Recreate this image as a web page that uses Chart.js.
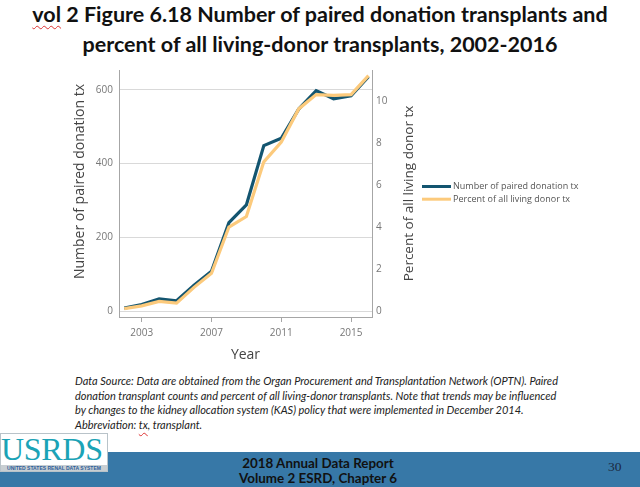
<!DOCTYPE html>
<html>
<head>
<meta charset="utf-8">
<script src="https://cdn.jsdelivr.net/npm/chart.js@4/dist/chart.umd.min.js"></script>
<style>
  html, body { margin:0; padding:0; background:#fff; }
  body { width:640px; height:487px; position:relative; overflow:hidden; font-family:Lato, "Open Sans", sans-serif; }
  #title { position:absolute; left:0; top:-1px; width:640px; text-align:center; font-weight:bold; font-size:21.5px; line-height:30px; color:#111; font-family:Lato, sans-serif; }
  .sq { text-decoration: underline wavy #d33; text-decoration-thickness:1px; text-underline-offset:3px; }
  #wrap { position:absolute; left:65px; top:58px; width:530px; height:305px; }
  #src { position:absolute; left:75px; top:374px; font-style:italic; font-size:11px; line-height:14.6px; color:#222; white-space:nowrap; }
  #bar { position:absolute; left:0; top:452px; width:640px; height:35px; background:#3778a7; }
  #foot { position:absolute; left:218px; top:456px; width:200px; text-align:center; font-weight:bold; font-size:13.4px; line-height:15px; color:#111; }
  #pg { position:absolute; left:608px; top:459px; font-family:"Liberation Serif", serif; font-size:13.5px; color:#1b2940; }
  #logo { position:absolute; left:0; top:433px; width:108px; height:39px; background:#fff; border:1px solid #b9c3c9; box-sizing:border-box; overflow:hidden; }
  #logo .big { position:absolute; left:0px; top:-3px; font-family:"Liberation Serif", serif; font-size:32px; letter-spacing:-0.3px; color:#1ba3b6; line-height:36px; }
  #logo .small { position:absolute; left:0; top:31px; width:106px; height:6px; background:#c8ced2; font-family:"Liberation Sans", sans-serif; font-weight:bold; font-size:5px; line-height:6px; color:#2d5e9a; white-space:nowrap; text-align:center; }
</style>
</head>
<body>
<div id="title"><span class="sq">vol</span> 2 Figure 6.18 Number of paired donation transplants and<br>percent of all living-donor transplants, 2002-2016</div>
<div id="wrap"><canvas id="c"></canvas></div>
<div id="src">Data Source: Data are obtained from the Organ Procurement and Transplantation Network (OPTN). Paired<br>donation transplant counts and percent of all living-donor transplants. Note that trends may be influenced<br>by changes to the kidney allocation system (KAS) policy that were implemented in December 2014.<br>Abbreviation: <span class="sq">tx</span>, transplant.</div>
<div id="bar"></div>
<div id="logo"><div class="big">USRDS</div><div class="small">UNITED STATES RENAL DATA SYSTEM</div></div>
<div id="foot">2018 Annual Data Report<br>Volume 2 ESRD, Chapter 6</div>
<div id="pg">30</div>
<script>
const years = [2002,2003,2004,2005,2006,2007,2008,2009,2010,2011,2012,2013,2014,2015,2016];
const pairedCount = [8,18,33,28,70,108,240,288,449,469,548,598,576,584,636];
const pairedPercent = [0.12,0.25,0.46,0.38,1.13,1.8,4.0,4.5,7.1,8.04,9.62,10.3,10.26,10.3,11.2];
const xTickValues = [2003,2007,2011,2015];
const leftTickValues = [0,200,400,600];
const rightTickValues = [0,2,4,6,8,10];
const seriesNames = ["Number of paired donation tx","Percent of all living donor tx"];
const axisTitles = { x:"Year", left:"Number of paired donation tx", right:"Percent of all living donor tx" };

const tickFont = { family:"Open Sans", size:10 };
const titleFont = { family:"Open Sans", size:14 };
const axisCol = "#a6a6a6";

const customText = {
  id:'customText',
  afterDraw(chart){
    const ctx = chart.ctx, a = chart.chartArea;
    const yL = chart.scales.yL, yR = chart.scales.yR;
    const mid = (a.top + a.bottom) / 2;
    ctx.save();
    ctx.fillStyle = '#444';
    ctx.font = '14px "Open Sans"';
    ctx.textAlign = 'center';
    ctx.textBaseline = 'middle';
    ctx.save();
    ctx.translate(yL.left + 15.5, mid - 12);
    ctx.rotate(-Math.PI/2);
    ctx.fillText(axisTitles.left, 0, 0);
    ctx.restore();
    ctx.save();
    ctx.font = '13.5px "Open Sans"';
    ctx.translate(yR.left + 37, mid);
    ctx.rotate(-Math.PI/2);
    ctx.fillText(axisTitles.right, 0, 0);
    ctx.restore();
    const lx = yR.right + 2;
    chart.data.datasets.forEach((ds, i) => {
      const ly = mid - 7 + i * 12.7;
      ctx.strokeStyle = ds.borderColor;
      ctx.lineWidth = 3;
      ctx.beginPath();
      ctx.moveTo(lx, ly);
      ctx.lineTo(lx + 29, ly);
      ctx.stroke();
      ctx.fillStyle = '#555';
      ctx.font = '9px "Open Sans"';
      ctx.textAlign = 'left';
      ctx.fillText(ds.label, lx + 31, ly);
    });
    ctx.restore();
  }
};

new Chart(document.getElementById('c'), {
  type:'line',
  data:{
    datasets:[
      { label:seriesNames[0], data:years.map((y,i)=>({x:y,y:pairedCount[i]})), yAxisID:'yL',
        borderColor:'#135570', backgroundColor:'#135570', borderWidth:3.2, pointRadius:0, tension:0, order:1 },
      { label:seriesNames[1], data:years.map((y,i)=>({x:y,y:pairedPercent[i]})), yAxisID:'yR',
        borderColor:'#fcca7c', backgroundColor:'#fcca7c', borderWidth:3.2, pointRadius:0, tension:0, order:0 }
    ]
  },
  options:{
    responsive:true, maintainAspectRatio:false, animation:false,
    layout:{ padding:{ left:0, right:175, top:9, bottom:0 } },
    plugins:{ tooltip:{ enabled:false }, legend:{ display:false } },
    scales:{
      x:{ type:'linear', min:2001.7, max:2016.2,
        afterBuildTicks:s=>{ s.ticks = xTickValues.map(v=>({value:v})); },
        afterFit:s=>{ s.height = 46; },
        ticks:{ callback:v=>String(v), color:'#777', font:tickFont, padding:5, maxRotation:0 },
        grid:{ drawOnChartArea:false, drawTicks:true, tickLength:5, color:axisCol },
        border:{ color:axisCol },
        title:{ display:true, text:axisTitles.x, color:'#444', font:titleFont, padding:{top:2,bottom:0} } },
      yL:{ type:'linear', position:'left', min:-16, max:654,
        afterBuildTicks:s=>{ s.ticks = leftTickValues.map(v=>({value:v})); },
        afterFit:s=>{ s.width = 54; },
        ticks:{ color:'#777', font:tickFont, padding:6 },
        grid:{ drawTicks:false, color:'#d9d9d9' },
        border:{ color:axisCol } },
      yR:{ type:'linear', position:'right', min:-0.28, max:11.47,
        afterBuildTicks:s=>{ s.ticks = rightTickValues.map(v=>({value:v})); },
        afterFit:s=>{ s.width = 48; },
        ticks:{ color:'#777', font:tickFont, padding:4 },
        grid:{ drawOnChartArea:false, drawTicks:false },
        border:{ color:axisCol } }
    }
  },
  plugins:[customText]
});
</script>
</body>
</html>
